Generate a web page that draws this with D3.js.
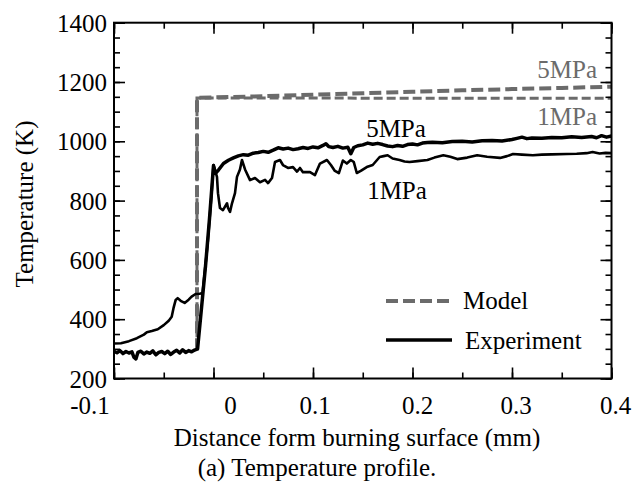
<!DOCTYPE html>
<html><head><meta charset="utf-8">
<script src="https://cdn.jsdelivr.net/npm/d3@7"></script>
<style>
body{margin:0;background:#fff}
</style>
</head><body>
<svg id="chart" width="634" height="483" font-family="'Liberation Serif', Tinos, 'Times New Roman', 'DejaVu Serif', serif"></svg>
<script>
// ---------- data ----------
const xTickValues = [-0.1, 0, 0.1, 0.2, 0.3, 0.4];
const xTickLabels = ["-0.1", "0", "0.1", "0.2", "0.3", "0.4"];
const yTickValues = [200, 400, 600, 800, 1000, 1200, 1400];
const yTickLabels = ["200", "400", "600", "800", "1000", "1200", "1400"];

const model5MPa = [[-0.0166,295],[-0.0166,1147],[0,1148],[0.05,1152],[0.1,1157],[0.15,1162],[0.2,1167],[0.25,1172],[0.3,1176],[0.35,1180],[0.4,1184]];
const model1MPa = [[-0.0166,295],[-0.0166,1146],[0.1,1146],[0.2,1145],[0.3,1145],[0.4,1145]];

const exp5MPa = [[-0.100,292],[-0.097,287],[-0.094,294],[-0.091,284],[-0.088,291],[-0.085,286],[-0.082,290],[-0.080,272],[-0.078,266],[-0.076,288],[-0.073,292],[-0.070,283],[-0.067,289],[-0.064,285],[-0.061,293],[-0.058,280],[-0.055,288],[-0.052,291],[-0.049,284],[-0.046,292],[-0.043,281],[-0.040,289],[-0.037,295],[-0.034,286],[-0.031,297],[-0.028,288],[-0.025,294],[-0.022,290],[-0.019,296],[-0.016,300],[-0.012,440],[-0.008,580],[-0.004,740],[0.000,918],[0.002,892],[0.005,903],[0.010,925],[0.015,936],[0.020,944],[0.025,951],[0.030,955],[0.035,953],[0.040,960],[0.045,962],[0.050,966],[0.055,963],[0.060,970],[0.065,978],[0.070,974],[0.075,977],[0.080,972],[0.085,975],[0.090,979],[0.095,976],[0.100,981],[0.105,978],[0.110,986],[0.113,992],[0.116,982],[0.120,979],[0.125,983],[0.130,977],[0.135,980],[0.138,958],[0.141,979],[0.145,985],[0.150,988],[0.155,994],[0.160,990],[0.165,993],[0.170,989],[0.175,984],[0.180,982],[0.185,986],[0.190,983],[0.195,989],[0.200,991],[0.205,988],[0.210,994],[0.215,996],[0.220,997],[0.230,995],[0.240,999],[0.250,1000],[0.260,998],[0.270,1002],[0.280,1003],[0.290,1001],[0.300,1006],[0.305,1010],[0.310,1014],[0.315,1009],[0.320,1011],[0.330,1010],[0.340,1013],[0.350,1012],[0.360,1015],[0.370,1013],[0.380,1016],[0.385,1012],[0.390,1019],[0.395,1014],[0.400,1018]];

const exp1MPa = [[-0.100,318],[-0.093,319],[-0.085,326],[-0.077,336],[-0.070,348],[-0.067,356],[-0.062,360],[-0.056,366],[-0.050,380],[-0.045,395],[-0.042,408],[-0.040,440],[-0.038,465],[-0.036,471],[-0.033,462],[-0.029,455],[-0.025,466],[-0.022,476],[-0.018,485],[-0.014,486],[-0.011,488],[-0.006,650],[-0.002,820],[0.000,920],[0.0035,880],[0.0045,825],[0.0065,775],[0.0095,768],[0.0136,791],[0.0146,775],[0.0166,762],[0.0186,791],[0.0216,825],[0.0236,880],[0.0266,905],[0.0286,937],[0.0317,905],[0.0367,869],[0.0417,876],[0.0467,862],[0.0518,870],[0.0548,859],[0.0588,876],[0.0618,930],[0.0668,937],[0.0698,920],[0.0749,910],[0.0799,913],[0.0839,898],[0.0869,910],[0.0899,896],[0.097,896],[0.102,886],[0.107,925],[0.114,937],[0.118,920],[0.122,900],[0.126,893],[0.130,935],[0.134,925],[0.138,937],[0.141,930],[0.144,893],[0.148,900],[0.154,913],[0.160,920],[0.167,947],[0.171,950],[0.175,953],[0.180,942],[0.187,937],[0.192,932],[0.197,930],[0.205,933],[0.215,937],[0.222,945],[0.231,953],[0.238,948],[0.245,940],[0.255,945],[0.265,953],[0.275,948],[0.288,944],[0.295,950],[0.301,957],[0.310,955],[0.321,953],[0.330,955],[0.340,956],[0.355,957],[0.365,958],[0.375,960],[0.381,964],[0.388,959],[0.394,961],[0.400,960]];

// ---------- layout ----------
const svg = d3.select("#chart");
const L = 114, R = 611.5, T = 22.7, B = 378.5;
const x = d3.scaleLinear().domain([-0.1, 0.4]).range([L, R]);
const y = d3.scaleLinear().domain([200, 1400]).range([B, T]);
const fs = 25;
const gray = "#6b6b6b";
const FONT = "'Liberation Serif', Tinos, 'Times New Roman', 'DejaVu Serif', serif";

svg.append("defs").append("clipPath").attr("id","clip")
  .append("rect").attr("x",L).attr("y",T).attr("width",R-L).attr("height",B-T);

const line = d3.line().x(d=>x(d[0])).y(d=>y(d[1]));
const plot = svg.append("g").attr("clip-path","url(#clip)");

plot.append("path").datum(model1MPa).attr("d",line).attr("fill","none")
  .attr("stroke",gray).attr("stroke-width",3).attr("stroke-dasharray","9,4");
plot.append("path").datum(model5MPa).attr("d",line).attr("fill","none")
  .attr("stroke",gray).attr("stroke-width",4).attr("stroke-dasharray","12,5");
plot.append("path").datum(exp1MPa).attr("d",line).attr("fill","none")
  .attr("stroke","#000").attr("stroke-width",2.6).attr("stroke-linejoin","round");
plot.append("path").datum(exp5MPa).attr("d",line).attr("fill","none")
  .attr("stroke","#000").attr("stroke-width",3.5).attr("stroke-linejoin","round");

// ---------- axes (inward ticks, all four sides) ----------
const xMinor = d3.range(-0.1, 0.4001, 0.05);
const yMinor = d3.range(200, 1401, 50);
function styleAxis(g){ g.select(".domain").remove(); g.selectAll("line").attr("stroke","#000").attr("stroke-width",1.6); g.selectAll("text").remove(); }
svg.append("g").attr("transform",`translate(0,${B})`).call(d3.axisBottom(x).tickValues(xMinor).tickSize(-6)).call(styleAxis);
svg.append("g").attr("transform",`translate(0,${B})`).call(d3.axisBottom(x).tickValues(xTickValues).tickSize(-11)).call(styleAxis);
svg.append("g").attr("transform",`translate(0,${T})`).call(d3.axisTop(x).tickValues(xMinor).tickSize(-6)).call(styleAxis);
svg.append("g").attr("transform",`translate(0,${T})`).call(d3.axisTop(x).tickValues(xTickValues).tickSize(-11)).call(styleAxis);
svg.append("g").attr("transform",`translate(${L},0)`).call(d3.axisLeft(y).tickValues(yMinor).tickSize(-6)).call(styleAxis);
svg.append("g").attr("transform",`translate(${L},0)`).call(d3.axisLeft(y).tickValues(yTickValues).tickSize(-11)).call(styleAxis);
svg.append("g").attr("transform",`translate(${R},0)`).call(d3.axisRight(y).tickValues(yMinor).tickSize(-6)).call(styleAxis);
svg.append("g").attr("transform",`translate(${R},0)`).call(d3.axisRight(y).tickValues(yTickValues).tickSize(-11)).call(styleAxis);

svg.append("rect").attr("x",L).attr("y",T).attr("width",R-L).attr("height",B-T)
  .attr("fill","none").attr("stroke","#000").attr("stroke-width",2);

function txt(sel){ return sel.attr("font-family",FONT).attr("font-size",fs); }

// tick labels
const xLabelNudge = [-24, 17, 2, 5, 4, 4];
svg.append("g").selectAll("text").data(xTickValues).join("text")
  .attr("x",(d,i)=>x(d)+xLabelNudge[i]).attr("y",B+35)
  .attr("text-anchor","middle").call(txt).text((d,i)=>xTickLabels[i]);
svg.append("g").selectAll("text").data(yTickValues).join("text")
  .attr("x",L-7).attr("y",d=>y(d)+9)
  .attr("text-anchor","end").call(txt).text((d,i)=>yTickLabels[i]);

// axis titles
svg.append("text").attr("x",357).attr("y",446).attr("text-anchor","middle")
  .call(txt).text("Distance form burning surface (mm)");
svg.append("text").attr("x",317).attr("y",476).attr("text-anchor","middle")
  .call(txt).text("(a) Temperature profile.");
svg.append("text").attr("transform","translate(33,204) rotate(-90)").attr("text-anchor","middle")
  .call(txt).text("Temperature (K)");

// curve labels
svg.append("text").attr("x",597).attr("y",78).attr("text-anchor","end").call(txt).attr("fill",gray).text("5MPa");
svg.append("text").attr("x",597).attr("y",125).attr("text-anchor","end").call(txt).attr("fill",gray).text("1MPa");
svg.append("text").attr("x",396).attr("y",137).attr("text-anchor","middle").call(txt).attr("fill","#000").text("5MPa");
svg.append("text").attr("x",397).attr("y",199).attr("text-anchor","middle").call(txt).attr("fill","#000").text("1MPa");

// legend
const lg = svg.append("g");
lg.append("line").attr("x1",386).attr("x2",452).attr("y1",301).attr("y2",301)
  .attr("stroke",gray).attr("stroke-width",4).attr("stroke-dasharray","12,5");
lg.append("text").attr("x",463).attr("y",309).call(txt).text("Model");
lg.append("line").attr("x1",386).attr("x2",452).attr("y1",340).attr("y2",340)
  .attr("stroke","#000").attr("stroke-width",3.5);
lg.append("text").attr("x",465).attr("y",349).call(txt).text("Experiment");
</script>
</body></html>
